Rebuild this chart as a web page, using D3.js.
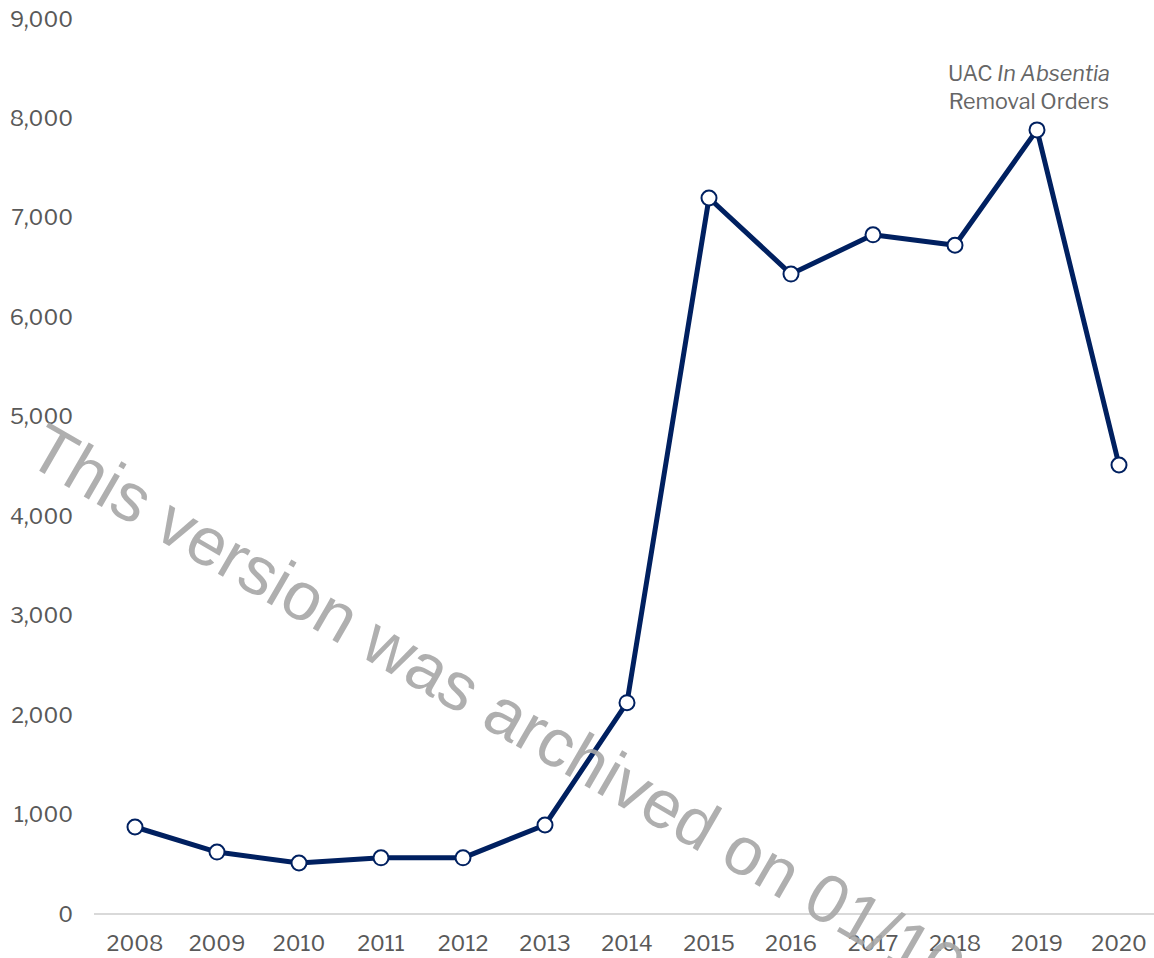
<!DOCTYPE html>
<html>
<head>
<meta charset="utf-8">
<script src="https://cdn.jsdelivr.net/npm/d3@7"></script>
<style>
  body { margin: 0; background: #fff; overflow: hidden; }
  svg { display: block; font-family: "Libre Franklin", "Liberation Sans", Arial, sans-serif; }
</style>
</head>
<body>
<script>
width = 1154;
height = 958;
margin = { top: 19, right: 35, bottom: 44, left: 94 }

// data
var years = [2008, 2009, 2010, 2011, 2012, 2013, 2014, 2015, 2016, 2017, 2018, 2019, 2020];
var orders = [875, 623, 513, 565, 565, 895, 2125, 7200, 6435, 6830, 6725, 7885, 4515];
var yTicks = [0, 1000, 2000, 3000, 4000, 5000, 6000, 7000, 8000, 9000];

var data = years.map((d, i) => ({ year: d, value: orders[i] }));

x = d3.scalePoint()
    .domain(years)
    .range([135, 1119])

y = d3.scaleLinear()
    .domain([0, 9000])
    .range([height - margin.bottom, margin.top])

const svg = d3.select('body')
    .append("svg")
    .attr('width', width)
    .attr('height', height)

// baseline
svg.append('line')
    .attr('x1', margin.left)
    .attr('x2', width)
    .attr('y1', y(0))
    .attr('y2', y(0))
    .attr('stroke', '#d9d9d9')
    .attr('stroke-width', 2)

// y labels
svg.append('g')
    .selectAll('text')
    .data(yTicks)
    .join('text')
    .attr('x', 73)
    .attr('y', d => y(d))
    .attr('dy', '0.35em')
    .attr('text-anchor', 'end')
    .attr('fill', '#595959')
    .style('font-size', '21.5px')
    .text(d => d3.format(",")(d))

// x labels
svg.append('g')
    .selectAll('text')
    .data(years)
    .join('text')
    .attr('x', d => x(d))
    .attr('y', 943)
    .attr('dy', '0.35em')
    .attr('text-anchor', 'middle')
    .attr('fill', '#595959')
    .style('font-size', '21.5px')
    .text(d => d)

// line
var line = d3.line()
    .x(d => x(d.year))
    .y(d => y(d.value))

svg.append('path')
    .datum(data)
    .attr('d', line)
    .attr('fill', 'none')
    .attr('stroke', '#002060')
    .attr('stroke-width', 5)
    .attr('stroke-linejoin', 'round')

svg.append('g')
    .selectAll('circle')
    .data(data)
    .join('circle')
    .attr('cx', d => x(d.year))
    .attr('cy', d => y(d.value))
    .attr('r', 7.5)
    .attr('fill', '#fff')
    .attr('stroke', '#002060')
    .attr('stroke-width', 2)

// annotation
var ann = svg.append('text')
    .attr('x', 1029)
    .attr('y', 73)
    .attr('dy', '0.35em')
    .attr('text-anchor', 'middle')
    .attr('fill', '#666')
    .style('font-size', '21.5px')
ann.append('tspan').text('UAC ')
ann.append('tspan').style('font-style', 'italic').text('In Absentia')
svg.append('text')
    .attr('x', 1029)
    .attr('y', 101)
    .attr('dy', '0.35em')
    .attr('text-anchor', 'middle')
    .attr('fill', '#666')
    .style('font-size', '21.5px')
    .text('Removal Orders')

// watermark
svg.append('text')
    .attr('transform', 'translate(24,462) rotate(30)')
    .attr('fill', '#a6a6a6')
    .attr('fill-opacity', 0.9)
    .style('font-family', '"Liberation Sans", Arial, sans-serif')
    .style('font-size', '68px')
    .text('This version was archived on 01/10/2024')
</script>
</body>
</html>
